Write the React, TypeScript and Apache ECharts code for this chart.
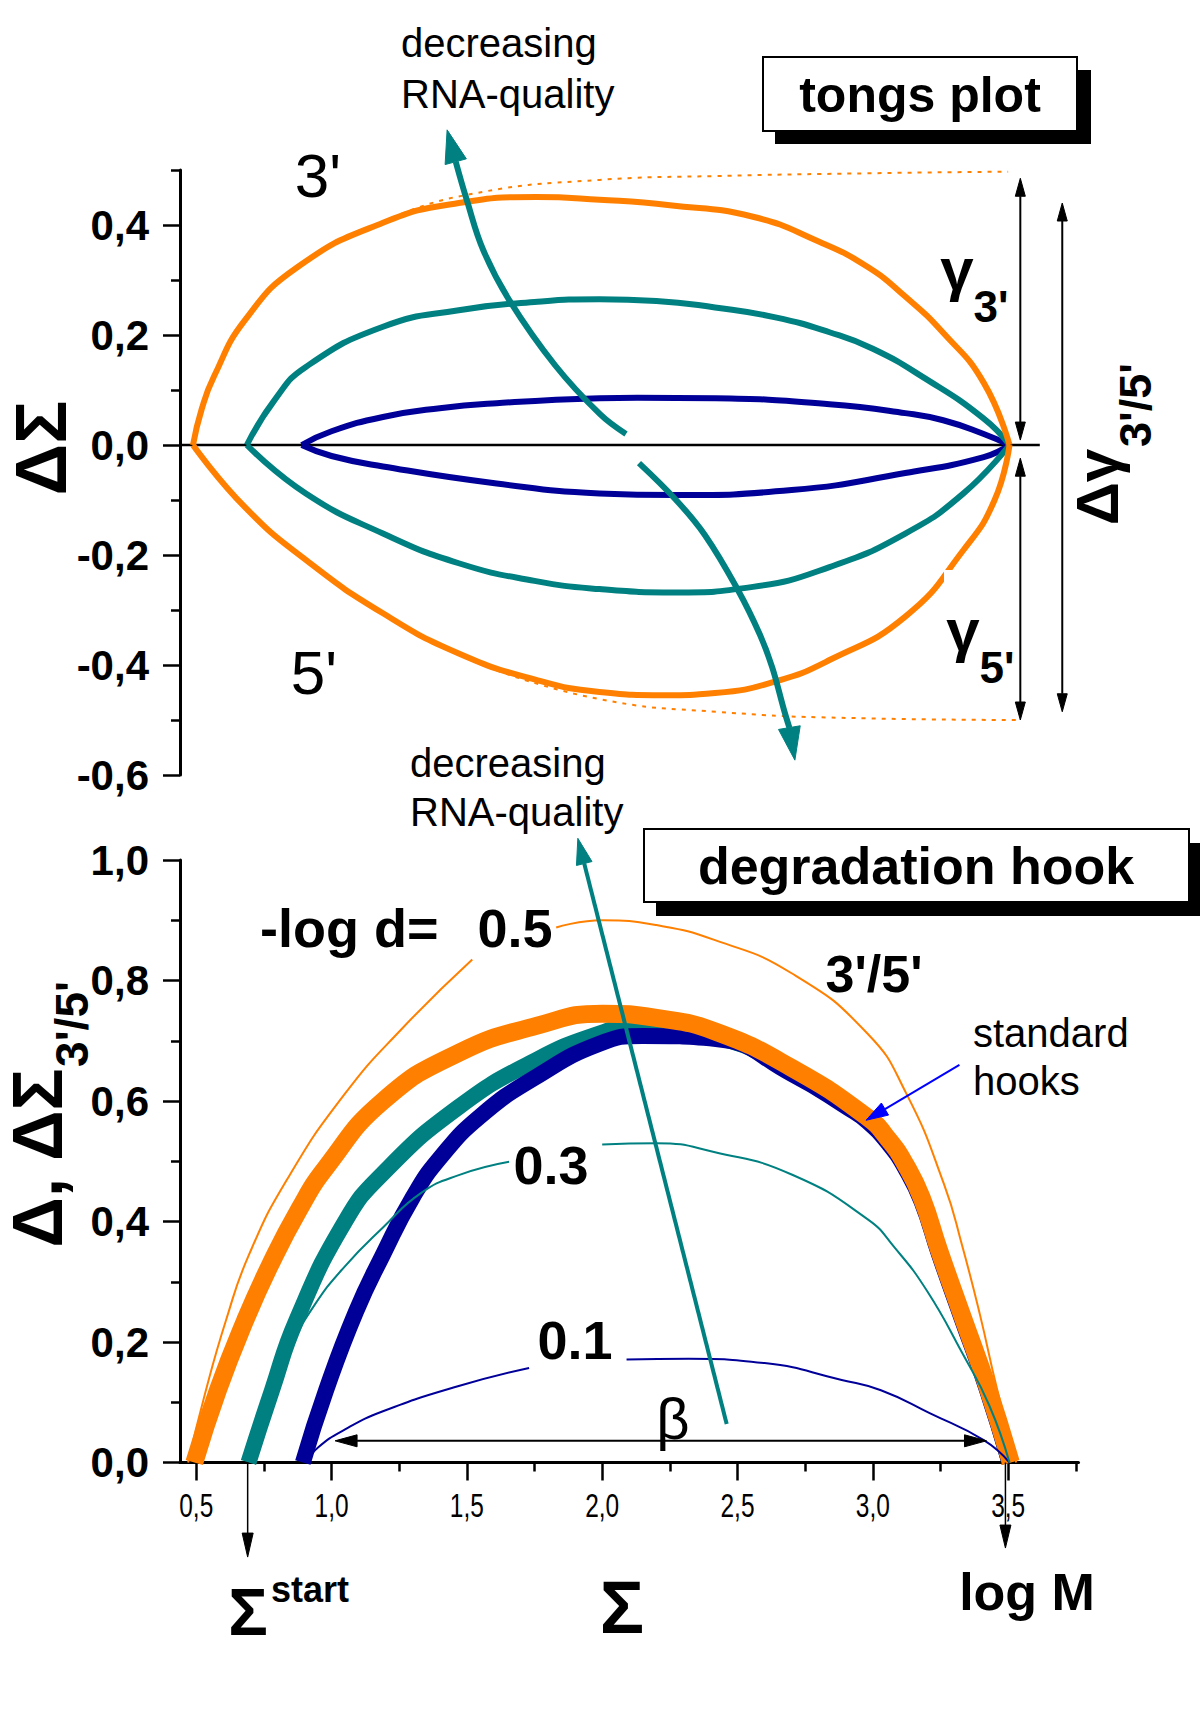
import React, { useEffect, useRef } from "react";
import * as echarts from "echarts";

const ORANGE = "#ff8000";
const TEAL = "#008080";
const NAVY = "#000099";
const BLUE = "#0000ff";
const FONT = "'Liberation Sans', Arial, Helvetica, sans-serif";

// ---------- Top panel: tongs plot (x = Σ, y = ΔΣ) ----------
const tongsOrange3 = [[0.488, 0], [0.52, 0.065], [0.565, 0.124], [0.68, 0.227], [0.876, 0.324], [1.19, 0.404], [1.47, 0.44], [1.756, 0.451], [1.99, 0.446], [2.25, 0.436], [2.557, 0.415], [2.8, 0.37], [2.98, 0.324], [3.12, 0.27], [3.26, 0.204], [3.41, 0.113], [3.505, 0]];
const tongsOrange5 = [[0.488, 0], [0.68, -0.113], [0.905, -0.209], [1.19, -0.306], [1.47, -0.379], [1.756, -0.427], [1.99, -0.449], [2.23, -0.455], [2.417, -0.451], [2.64, -0.43], [2.84, -0.391], [3.12, -0.312], [3.335, -0.191], [3.45, -0.1], [3.505, 0]];
const tongsTeal3 = [[0.687, 0], [0.79, 0.082], [0.905, 0.142], [1.19, 0.215], [1.47, 0.245], [1.75, 0.26], [1.99, 0.265], [2.2, 0.262], [2.417, 0.25], [2.64, 0.232], [2.84, 0.205], [3.0, 0.175], [3.19, 0.122], [3.41, 0.048], [3.505, 0]];
const tongsTeal5 = [[0.687, 0], [0.905, -0.088], [1.19, -0.161], [1.47, -0.215], [1.75, -0.247], [1.99, -0.262], [2.27, -0.268], [2.557, -0.258], [2.84, -0.222], [3.12, -0.161], [3.335, -0.088], [3.505, 0]];
const tongsNavy3 = [[0.89, 0], [1.0, 0.025], [1.19, 0.051], [1.4, 0.067], [1.61, 0.076], [1.99, 0.085], [2.13, 0.086], [2.42, 0.085], [2.84, 0.074], [3.12, 0.058], [3.26, 0.045], [3.41, 0.02], [3.505, 0]];
const tongsNavy5 = [[0.89, 0], [1.0, -0.02], [1.19, -0.039], [1.61, -0.07], [1.99, -0.088], [2.27, -0.091], [2.7, -0.082], [3.12, -0.051], [3.41, -0.022], [3.505, 0]];
const tongsLimit3 = [[1.19, 0.406], [1.47, 0.452], [1.99, 0.482], [2.417, 0.489], [2.98, 0.494], [3.5, 0.497]];
const tongsLimit5 = [[1.61, -0.41], [1.99, -0.462], [2.42, -0.485], [2.98, -0.497], [3.545, -0.5]];
const zeroLine = [[0.44, 0], [3.617, 0]];

// ---------- Bottom panel: degradation hook (x = Σ, y = Δ, ΔΣ3'/5') ----------
const hookOrangeStd = [[0.493, 0], [0.58, 0.12], [0.68, 0.235], [0.77, 0.325], [0.88, 0.42], [0.98, 0.49], [1.19, 0.6], [1.47, 0.68], [1.76, 0.725], [2.0, 0.745], [2.2, 0.738], [2.42, 0.715], [2.7, 0.655], [2.98, 0.573], [3.06, 0.535], [3.12, 0.495], [3.18, 0.44], [3.245, 0.352], [3.33, 0.244], [3.42, 0.13], [3.51, 0]];
const hookTealStd = [[0.693, 0], [0.78, 0.12], [0.87, 0.236], [1.05, 0.4], [1.19, 0.48], [1.47, 0.59], [1.756, 0.668], [1.99, 0.712], [2.1, 0.722], [2.42, 0.706], [2.7, 0.648], [2.98, 0.568], [3.06, 0.53], [3.12, 0.49], [3.18, 0.435], [3.245, 0.347], [3.33, 0.239], [3.42, 0.125], [3.505, 0]];
const hookNavyStd = [[0.894, 0], [0.98, 0.12], [1.09, 0.25], [1.19, 0.345], [1.3, 0.44], [1.4, 0.505], [1.55, 0.575], [1.756, 0.64], [1.99, 0.695], [2.15, 0.708], [2.42, 0.703], [2.7, 0.645], [2.91, 0.588], [2.98, 0.566], [3.06, 0.528], [3.12, 0.488], [3.18, 0.433], [3.245, 0.345], [3.33, 0.237], [3.42, 0.123], [3.505, 0]];
const hookOrange05 = [[0.47, 0], [0.53, 0.11], [0.61, 0.236], [0.695, 0.345], [0.836, 0.47], [1.046, 0.61], [1.26, 0.72], [1.52, 0.835], [1.68, "-"], [1.83, 0.888], [2.0, 0.9], [2.2, 0.892], [2.417, 0.867], [2.7, 0.812], [2.98, 0.712], [3.123, 0.613], [3.263, 0.462], [3.33, 0.36], [3.396, 0.245], [3.459, 0.122], [3.53, 0]];
const hookTeal03 = [[0.7, 0], [0.77, 0.1], [0.86, 0.2], [0.935, 0.26], [1.046, 0.324], [1.19, 0.39], [1.33, 0.447], [1.47, 0.477], [1.656, 0.499], [1.8, "-"], [2.0, 0.528], [2.2, 0.53], [2.417, 0.515], [2.7, 0.478], [2.98, 0.404], [3.08, 0.357], [3.2, 0.285], [3.33, 0.182], [3.43, 0.095], [3.505, 0]];
const hookNavy01 = [[0.905, 0], [0.95, 0.025], [1.05, 0.055], [1.19, 0.085], [1.47, 0.127], [1.73, 0.157], [1.9, "-"], [2.09, 0.171], [2.32, 0.172], [2.6, 0.165], [2.885, 0.137], [3.03, 0.12], [3.21, 0.082], [3.41, 0.037], [3.505, 0]];

// ---------- axes ----------
const X_MIN = 0.44;
const X_MAX = 3.76;
const xTickMajor = [0.5, 1.0, 1.5, 2.0, 2.5, 3.0, 3.5];
const xTickMinor = [0.75, 1.25, 1.75, 2.25, 2.75, 3.25, 3.75];
const topYMajor = [-0.6, -0.4, -0.2, 0, 0.2, 0.4];
const topYMinor = [-0.5, -0.3, -0.1, 0.1, 0.3, 0.5];
const botYMajor = [0, 0.2, 0.4, 0.6, 0.8, 1.0];
const botYMinor = [0.1, 0.3, 0.5, 0.7, 0.9];

// ---------- annotation arrows (data units) ----------
const arrowTongsUp = [[2.088, 0.02], [1.992, 0.056], [1.826, 0.145], [1.656, 0.264], [1.56, 0.355], [1.5, 0.445], [1.46, 0.513], [1.427, 0.573]];
const arrowTongsDown = [[2.136, -0.033], [2.273, -0.1], [2.38, -0.164], [2.502, -0.264], [2.583, -0.345], [2.628, -0.404], [2.672, -0.482], [2.69, -0.509], [2.712, -0.573]];
const arrowGamma3 = [[3.545, 0.485], [3.545, 0.009]];
const arrowGamma5 = [[3.545, -0.024], [3.545, -0.5]];
const arrowDeltaGamma = [[3.70, 0.44], [3.70, -0.485]];
const arrowHookQuality = [[2.46, 0.064], [1.91, 1.036]];
const arrowBeta = [[1.013, 0.036], [3.42, 0.036]];
const arrowStart = [[0.69, 0], [0.69, -0.157]];
const arrowLogM = [[3.49, 0], [3.49, -0.142]];
const arrowHooks = [[3.32, 0.66], [2.975, 0.568]];

const fmt = (v: number) => v.toFixed(1).replace(".", ",");

function lineSeries(name: string, data: any[], color: string, width: number, grid: number, extra: any = {}) {
  return {
    name,
    type: "line",
    data,
    xAxisIndex: grid === 0 ? 0 : 1,
    yAxisIndex: grid === 0 ? 0 : 2,
    symbol: "none",
    smooth: 0.5,
    connectNulls: false,
    lineStyle: { color, width, ...(extra.lineStyle || {}) },
    z: extra.z ?? 2,
    silent: true,
  };
}

function valueAxis(gridIndex: number, min: number, max: number, extra: any) {
  return {
    type: "value",
    gridIndex,
    min,
    max,
    splitLine: { show: false },
    ...extra,
  };
}

export default function App() {
  const ref = useRef<HTMLDivElement>(null);

  useEffect(() => {
    const chart = echarts.init(ref.current!, null, { renderer: "svg" });

    const yLabel = {
      fontFamily: FONT,
      fontWeight: "bold",
      fontSize: 42,
      color: "#000",
      margin: 31,
      formatter: (v: number) => fmt(v),
    };

    const option: any = {
      animation: false,
      backgroundColor: "#fff",
      grid: [
        { left: 180, top: 170, width: 898.5, height: 605, containLabel: false, outerBoundsMode: "none" },
        { left: 180, top: 860, width: 898.5, height: 602.5, containLabel: false, outerBoundsMode: "none" },
      ],
      xAxis: [
        valueAxis(0, X_MIN, X_MAX, { show: false }),
        valueAxis(1, X_MIN, X_MAX, {
          position: "bottom",
          axisLine: { show: true, onZero: false, lineStyle: { color: "#000", width: 3 } },
          axisTick: { show: true, customValues: xTickMajor, length: 18, lineStyle: { color: "#000", width: 2.5 } },
          axisLabel: { show: false },
        }),
        valueAxis(1, X_MIN, X_MAX, {
          position: "bottom",
          axisLine: { show: false, onZero: false },
          axisTick: { show: true, customValues: xTickMinor, length: 9, lineStyle: { color: "#000", width: 2.5 } },
          axisLabel: { show: false },
        }),
      ],
      yAxis: [
        valueAxis(0, -0.6, 0.5, {
          position: "left",
          axisLine: { show: true, onZero: false, lineStyle: { color: "#000", width: 3 } },
          axisTick: { show: true, customValues: topYMajor, length: 17, lineStyle: { color: "#000", width: 2.5 } },
          axisLabel: { ...yLabel, customValues: topYMajor },
        }),
        valueAxis(0, -0.6, 0.5, {
          position: "left",
          axisLine: { show: false, onZero: false },
          axisTick: { show: true, customValues: topYMinor, length: 9, lineStyle: { color: "#000", width: 2.5 } },
          axisLabel: { show: false },
        }),
        valueAxis(1, 0, 1.0, {
          position: "left",
          axisLine: { show: true, onZero: false, lineStyle: { color: "#000", width: 3 } },
          axisTick: { show: true, customValues: botYMajor, length: 17, lineStyle: { color: "#000", width: 2.5 } },
          axisLabel: { ...yLabel, customValues: botYMajor },
        }),
        valueAxis(1, 0, 1.0, {
          position: "left",
          axisLine: { show: false, onZero: false },
          axisTick: { show: true, customValues: botYMinor, length: 9, lineStyle: { color: "#000", width: 2.5 } },
          axisLabel: { show: false },
        }),
      ],
      series: [
        lineSeries("zero", zeroLine, "#000", 2.5, 0, { z: 1 }),
        lineSeries("limit3", tongsLimit3, ORANGE, 2, 0, { lineStyle: { type: [4, 6] } }),
        lineSeries("limit5", tongsLimit5, ORANGE, 2, 0, { lineStyle: { type: [4, 6] } }),
        lineSeries("navy3", tongsNavy3, NAVY, 6, 0),
        lineSeries("navy5", tongsNavy5, NAVY, 6, 0),
        lineSeries("teal3", tongsTeal3, TEAL, 6, 0),
        lineSeries("teal5", tongsTeal5, TEAL, 6, 0),
        lineSeries("orange3", tongsOrange3, ORANGE, 6, 0),
        lineSeries("orange5", tongsOrange5, ORANGE, 6, 0),

        lineSeries("tealStd", hookTealStd, TEAL, 16, 1),
        lineSeries("navyStd", hookNavyStd, NAVY, 16, 1),
        lineSeries("orangeStd", hookOrangeStd, ORANGE, 18, 1),
        lineSeries("navy01", hookNavy01, NAVY, 2, 1, { z: 3 }),
        lineSeries("teal03", hookTeal03, TEAL, 2, 1, { z: 3 }),
        lineSeries("orange05", hookOrange05, ORANGE, 2, 1, { z: 3 }),
      ],
    };

    chart.setOption(option);

    const P0 = (p: number[]) => chart.convertToPixel({ xAxisIndex: 0, yAxisIndex: 0 }, p) as number[];
    const P1 = (p: number[]) => chart.convertToPixel({ xAxisIndex: 1, yAxisIndex: 2 }, p) as number[];

    const head = (tip: number[], from: number[], len: number, w: number) => {
      const dx = tip[0] - from[0];
      const dy = tip[1] - from[1];
      const L = Math.hypot(dx, dy) || 1;
      const ux = dx / L;
      const uy = dy / L;
      const bx = tip[0] - ux * len;
      const by = tip[1] - uy * len;
      return {
        base: [bx, by],
        poly: [
          [tip[0], tip[1]],
          [bx - (uy * w) / 2, by + (ux * w) / 2],
          [bx + (uy * w) / 2, by - (ux * w) / 2],
        ],
      };
    };

    const arrow = (ptsData: number[][], conv: (p: number[]) => number[], color: string, lw: number, len: number, w: number, both: boolean, smooth: number) => {
      const pts = ptsData.map(conv);
      const n = pts.length;
      const out: any[] = [];
      const hEnd = head(pts[n - 1], pts[n - 2], len, w);
      let shaft = n > 2 ? pts.slice(0, n - 2) : pts.slice(0, n - 1);
      shaft.push(hEnd.base);
      out.push({ type: "polygon", z: 40, shape: { points: hEnd.poly }, style: { fill: color, stroke: color, lineWidth: 1 } });
      if (both) {
        const hStart = head(pts[0], pts[1], len, w);
        shaft[0] = hStart.base;
        out.push({ type: "polygon", z: 40, shape: { points: hStart.poly }, style: { fill: color, stroke: color, lineWidth: 1 } });
      }
      out.unshift({ type: "polyline", z: 39, shape: { points: shaft, smooth }, style: { stroke: color, lineWidth: lw, fill: null } });
      return out;
    };

    const txt = (text: string, x: number, y: number, size: number, o: any = {}) => ({
      type: "text",
      x,
      y,
      z: 50,
      rotation: o.rot || 0,
      scaleX: o.scaleX || 1,
      style: {
        text,
        x: 0,
        y: 0,
        fill: o.color || "#000",
        fontFamily: o.family || FONT,
        fontSize: size,
        fontWeight: o.bold ? "bold" : "normal",
        textAlign: o.align || "center",
        textVerticalAlign: "middle",
        verticalAlign: "middle",
      },
    });

    // x-axis tick labels (condensed, as in the reference), placed through the axis scale
    const xLabels = xTickMajor.map((v) => {
      const p = P1([v, 0]);
      return txt(fmt(v), p[0], p[1] + 42, 34, { scaleX: 0.72 });
    });

    const R = Math.PI / 2;
    const graphics: any[] = [
      // gap in the lower orange tongs curve (white label box corner)
      { type: "rect", z: 30, shape: { x: 944, y: 570, width: 60, height: 28 }, style: { fill: "#fff" } },

      // top panel texts
      txt("decreasing", 401, 43, 40, { align: "left" }),
      txt("RNA-quality", 401, 94, 40, { align: "left" }),
      txt("3'", 318, 175, 62),
      txt("5'", 314, 672, 62),
      { type: "rect", z: 45, shape: { x: 775, y: 70, width: 316, height: 74 }, style: { fill: "#000" } },
      { type: "rect", z: 46, shape: { x: 763, y: 57, width: 314, height: 74 }, style: { fill: "#fff", stroke: "#000", lineWidth: 2 } },
      txt("tongs plot", 920, 95, 50, { bold: true }),
      txt("γ", 957, 269, 60, { bold: true }),
      txt("3'", 991, 306, 44, { bold: true }),
      txt("γ", 963, 630, 60, { bold: true }),
      txt("5'", 997, 667, 44, { bold: true }),
      txt("Δγ", 1097, 487, 60, { bold: true, rot: R }),
      txt("3'/5'", 1135, 405, 45, { bold: true, rot: R }),
      txt("ΔΣ", 41, 448, 72, { bold: true, rot: R }),

      // bottom panel texts
      txt("decreasing", 410, 763, 40, { align: "left" }),
      txt("RNA-quality", 410, 812, 40, { align: "left" }),
      { type: "rect", z: 45, shape: { x: 656, y: 843, width: 550, height: 73 }, style: { fill: "#000" } },
      { type: "rect", z: 46, shape: { x: 644, y: 829, width: 545, height: 73 }, style: { fill: "#fff", stroke: "#000", lineWidth: 2 } },
      txt("degradation hook", 916, 866, 52, { bold: true }),
      txt("-log d=", 260, 928, 54, { bold: true, align: "left" }),
      txt("0.5", 515, 928, 54, { bold: true }),
      txt("0.3", 551, 1165, 54, { bold: true }),
      txt("0.1", 575, 1340, 54, { bold: true }),
      txt("3'/5'", 874, 974, 52, { bold: true }),
      txt("standard", 973, 1033, 40, { align: "left" }),
      txt("hooks", 973, 1081, 40, { align: "left" }),
      txt("β", 673, 1418, 58),
      txt("Δ, ΔΣ", 38, 1158, 70, { bold: true, rot: R }),
      txt("3'/5'", 72, 1024, 46, { bold: true, rot: R }),
      txt("Σ", 248, 1612, 66, { bold: true }),
      txt("start", 310, 1589, 36, { bold: true }),
      txt("Σ", 622, 1607, 74, { bold: true }),
      txt("log M", 1027, 1592, 52, { bold: true }),
      ...xLabels,

      // arrows
      ...arrow(arrowTongsUp, P0, TEAL, 6, 33, 22, false, 0.4),
      ...arrow(arrowTongsDown, P0, TEAL, 6, 33, 22, false, 0.4),
      ...arrow(arrowGamma3, P0, "#000", 2, 18, 10, true, 0),
      ...arrow(arrowGamma5, P0, "#000", 2, 18, 10, true, 0),
      ...arrow(arrowDeltaGamma, P0, "#000", 2, 18, 10, true, 0),
      ...arrow(arrowHookQuality, P1, TEAL, 4, 26, 16, false, 0),
      ...arrow(arrowBeta, P1, "#000", 2, 22, 12, true, 0),
      ...arrow(arrowStart, P1, "#000", 1.5, 24, 11, false, 0),
      ...arrow(arrowLogM, P1, "#000", 1.5, 23, 11, false, 0),
      ...arrow(arrowHooks, P1, BLUE, 2, 22, 14, false, 0),
    ];

    chart.setOption({ graphic: graphics });

    return () => chart.dispose();
  }, []);

  return (
    <div
      ref={ref}
      style={{ position: "absolute", left: 0, top: 0, width: 1200, height: 1722, background: "#fff" }}
    />
  );
}
